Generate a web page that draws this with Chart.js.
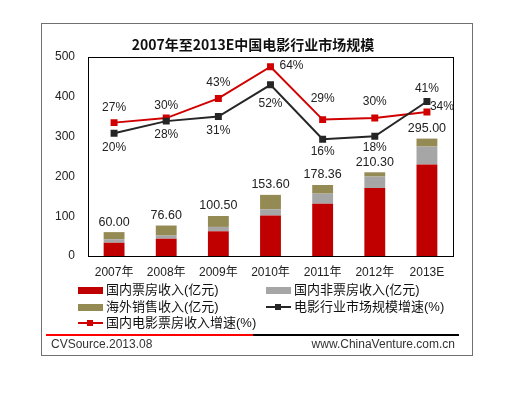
<!DOCTYPE html>
<html>
<head>
<meta charset="utf-8">
<script src="https://cdn.jsdelivr.net/npm/chart.js@4/dist/chart.umd.min.js"></script>
<style>
  body { margin: 0; background: #fff; font-family: 'Liberation Sans', 'Noto Sans CJK SC', sans-serif; }
  #wrap { position: relative; width: 518px; height: 398px; }
  #c { position: absolute; left: 0; top: 0; }
  #frame { position: absolute; left: 41px; top: 23px; width: 432px; height: 333px; border: 1px solid #707070; box-sizing: border-box; }
  #title { position: absolute; left: 41px; width: 424px; top: 34px; text-align: center; font: bold 14px 'Noto Sans CJK SC', sans-serif; color: #111; }
  .lg { position: absolute; font-size: 13px; color: #111; line-height: 16px; white-space: nowrap; }
  .sw { position: absolute; width: 25px; height: 7px; }
  .ln { position: absolute; width: 25px; height: 2px; }
  .ln i { position: absolute; left: 9px; top: -2px; width: 6px; height: 6px; }
  #sep1 { position: absolute; left: 46px; top: 334px; width: 207px; height: 2px; background: #ff0000; }
  #sep2 { position: absolute; left: 253px; top: 334px; width: 206px; height: 2px; background: #000; }
  .ft { position: absolute; top: 337px; font-size: 12px; color: #333; }
</style>
</head>
<body>
<div id="wrap">
  <canvas id="c" width="518" height="398"></canvas>
  <div id="frame"></div>
  <div id="title">2007年至2013E中国电影行业市场规模</div>
  <div id="legend"></div>
  <div id="sep1"></div>
  <div id="sep2"></div>
  <div class="ft" style="left:51px">CVSource.2013.08</div>
  <div class="ft" style="right:63px">www.ChinaVenture.com.cn</div>
</div>
<script>
const anos = ['2007年', '2008年', '2009年', '2010年', '2011年', '2012年', '2013E'];
const bilheteria = [33.3, 43.4, 62.1, 101.7, 131.2, 170.7, 230.0];
const naoBilheteria = [8.9, 8.0, 11.0, 15.8, 25.5, 28.9, 45.0];
const exterior = [17.8, 25.2, 27.4, 36.1, 21.7, 10.7, 20.0];
const totais = ['60.00', '76.60', '100.50', '153.60', '178.36', '210.30', '295.00'];
const crescMercado = [20, 28, 31, 52, 16, 18, 41];
const crescBilheteria = [27, 30, 43, 64, 29, 30, 34];

const fonte = "'Liberation Sans', 'Noto Sans CJK SC', sans-serif";
Chart.defaults.font.family = fonte;
Chart.defaults.color = '#222';

// deslocamento (dx, dy) do rótulo de cada ponto das linhas
const dxMercado = [0, 0, 0, 0, 0, 0, 0];
const dyMercado = [14, 14, 14, 19, 12, 11, -13];
const dxBilheteria = [0, 0, 0, 21, 0, 0, 15];
const dyBilheteria = [-15, -12, -16, -1, -21, -16, -5];

const rotulos = {
    id: 'rotulos',
    beforeDatasetsDraw(chart) {
        const { ctx, chartArea: a } = chart;
        ctx.save();
        ctx.strokeStyle = '#000';
        ctx.lineWidth = 1;
        ctx.strokeRect(Math.round(a.left) + 0.5, Math.round(a.top) + 0.5, Math.round(a.right - a.left), Math.round(a.bottom - a.top));
        ctx.restore();
    },
    afterDatasetsDraw(chart) {
        const ctx = chart.ctx;
        ctx.save();
        ctx.fillStyle = '#222';
        ctx.textAlign = 'center';
        ctx.textBaseline = 'middle';
        ctx.font = '12.5px ' + fonte;
        chart.getDatasetMeta(2).data.forEach((bar, i) => {
            ctx.fillText(totais[i], bar.x, bar.y - 10);
        });
        ctx.font = '12px ' + fonte;
        const desenhar = (idx, valores, dx, dy) => {
            chart.getDatasetMeta(idx).data.forEach((p, i) => {
                ctx.fillText(valores[i] + '%', p.x + dx[i], p.y + dy[i]);
            });
        };
        desenhar(3, crescMercado, dxMercado, dyMercado);
        desenhar(4, crescBilheteria, dxBilheteria, dyBilheteria);
        ctx.restore();
    }
};

const chart = new Chart(document.getElementById('c'), {
    type: 'bar',
    data: {
        labels: anos,
        datasets: [
            { label: '国内票房收入(亿元)', data: bilheteria, backgroundColor: '#c00000', stack: 's', order: 3 },
            { label: '国内非票房收入(亿元)', data: naoBilheteria, backgroundColor: '#a6a6a6', stack: 's', order: 3 },
            { label: '海外销售收入(亿元)', data: exterior, backgroundColor: '#948a54', stack: 's', order: 3 },
            { type: 'line', label: '电影行业市场规模增速(%)', data: crescMercado, yAxisID: 'y2',
              borderColor: '#262626', backgroundColor: '#262626', borderWidth: 2,
              pointStyle: 'rect', pointRadius: 3.5, order: 1 },
            { type: 'line', label: '国内电影票房收入增速(%)', data: crescBilheteria, yAxisID: 'y2',
              borderColor: '#d00000', backgroundColor: '#d00000', borderWidth: 2,
              pointStyle: 'rect', pointRadius: 3.5, order: 2 }
        ]
    },
    options: {
        responsive: false,
        animation: false,
        layout: { padding: { left: 48, top: 57, right: 65, bottom: 112 } },
        datasets: { bar: { categoryPercentage: 1, barPercentage: 0.4 } },
        plugins: { legend: { display: false }, tooltip: { enabled: false } },
        scales: {
            x: {
                stacked: true,
                grid: { display: false, drawTicks: false },
                border: { display: false },
                ticks: { padding: 9, font: { size: 12 }, color: '#222' },
                afterFit(s) { s.height = 30; }
            },
            y: {
                stacked: true,
                min: 0, max: 500,
                grid: { display: false, drawTicks: false },
                border: { display: false },
                ticks: { stepSize: 100, padding: 13, font: { size: 12 }, color: '#222' },
                afterFit(s) { s.width = 40; }
            },
            y2: { display: false, min: -61.2, max: 70.4 }
        }
    },
    plugins: [rotulos]
});

// legenda em duas colunas
const legenda = document.getElementById('legend');
const itens = [
    { ds: 0, x: 78, y: 290, tipo: 'box' },
    { ds: 1, x: 266, y: 290, tipo: 'box' },
    { ds: 2, x: 78, y: 307, tipo: 'box' },
    { ds: 3, x: 266, y: 307, tipo: 'line' },
    { ds: 4, x: 78, y: 323, tipo: 'line' }
];
itens.forEach(it => {
    const ds = chart.data.datasets[it.ds];
    const m = document.createElement('div');
    if (it.tipo === 'box') {
        m.className = 'sw';
        m.style.left = it.x + 'px';
        m.style.top = (it.y - 3) + 'px';
        m.style.background = ds.backgroundColor;
    } else {
        m.className = 'ln';
        m.style.left = it.x + 'px';
        m.style.top = (it.y - 1) + 'px';
        m.style.background = ds.borderColor;
        m.innerHTML = '<i style="background:' + ds.borderColor + '"></i>';
    }
    legenda.appendChild(m);
    const t = document.createElement('div');
    t.className = 'lg';
    t.style.left = (it.x + 28) + 'px';
    t.style.top = (it.y - 8) + 'px';
    t.textContent = ds.label;
    legenda.appendChild(t);
});
</script>
</body>
</html>
